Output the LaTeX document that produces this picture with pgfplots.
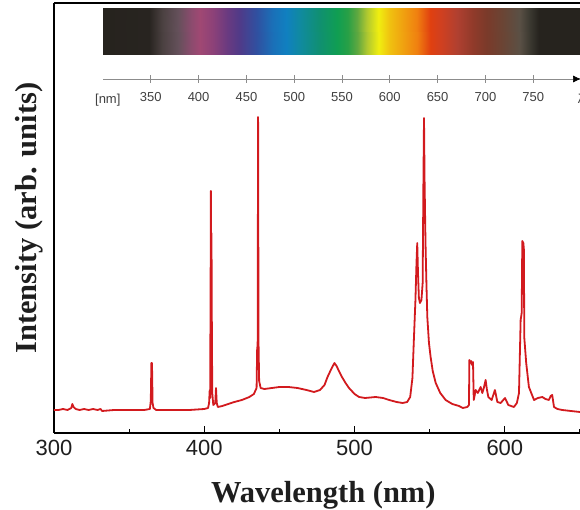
\documentclass[border=0pt]{standalone}
\usepackage{fontspec}
\setmainfont{Liberation Serif}
\setsansfont{Liberation Sans}
\usepackage{pgfplots}
\pgfplotsset{compat=1.18}
\usetikzlibrary{arrows.meta}
\definecolor{specred}{RGB}{210,26,30}
\definecolor{inktext}{RGB}{30,30,30}

\begin{document}
\begin{tikzpicture}[x=1pt,y=1pt]
% ---------------- main spectrum -----------------
\begin{axis}[
  at={(0,0)}, anchor=south west,
  width=526pt, height=430pt, scale only axis,
  xmin=300, xmax=650, ymin=0, ymax=430,
  axis x line*=box, axis y line*=left,
  xtick={300,400,500,600}, minor xtick={350,450,550,650},
  xtick pos=bottom, ytick=\empty,
  tick align=inside,
  major tick length=7pt, minor tick length=3.5pt,
  every tick/.style={black, line width=1.1pt},
  axis line style={line width=1.6pt, black},
  /pgf/number format/assume math mode=true,
  xticklabel style={font=\fontsize{22}{22}\selectfont\sffamily, text=inktext, yshift=-4pt},
  xlabel={Wavelength (nm)}, ylabel={Intensity (arb. units)},
  every axis x label/.style={at={(axis description cs:0.512,-0.1605)}, anchor=base,
     font=\fontsize{30.5}{30.5}\selectfont\bfseries, text=inktext},
  every axis y label/.style={at={(axis description cs:-0.0342,0.5)}, anchor=base, rotate=90,
     font=\fontsize{30.5}{30.5}\selectfont\bfseries, text=inktext},
  clip=false,
]
\addplot[color=specred, line width=1.8pt, line join=round] table {
300 23
303 23
306 24
309 23
311.5 25
312.2 29
313 26
314.5 24
317 23
320 24
323 23
326 24
329 23
331 24
332 22
340 23
350 23
360 23
363.8 24
364.4 32
364.8 70
365.2 70
365.6 30
366.2 25
368 23
380 23
390 23
400 24
402.5 25
403.2 30
403.6 43
403.9 35
404.2 150
404.4 242
404.6 150
404.8 200
405.0 120
405.3 40
406 28
407.3 30
407.8 45
408.3 30
409 26
412 27
416 29
420 31
425 33
430 36
433 39
434.8 45
435.2 86
435.5 86
435.8 316
436.1 90
436.5 52
437.5 45
440 44
445 45
450 46
456 46
462 45
468 43
473 41
477 43
480 48
482 56
484.5 64
486.6 70
488 67
489.6 62
491.6 56
494 50
496.3 45
500 39
503 36
507 35
514 36
519 35
523 33
528 31
532 30
535 31
537 36
538.5 55
539.5 95
540.5 133
541.2 170
541.7 190
542.2 160
542.8 135
543.5 130
544.5 133
545.3 150
545.8 250
546.2 315
546.6 250
547.2 190
547.8 150
548.4 116
549.5 90
550.6 76
552 62
554 50
557 40
560.6 33
565 29
569.5 27
572 25
575 26
576.1 28
576.4 73
577 70
577.6 72
578.2 68
578.8 71
579.3 33
580.6 43
582 40
583.9 46
585 40
586 45
587.2 53
588 44
589 36
591.2 33
593.4 43
595 31
597.2 30
600.1 35
602.3 28
606 26
608 30
609.4 40
610.5 113
611.2 120
611.6 192
612.3 190
612.7 183
612.9 96
614.2 70
616 46
619.4 33
622 35
624.9 36
627 34
629.3 33
630.5 37
631.5 38
632.7 26
635 24
638.2 23
644 22
650 21
};
\end{axis}

% ---------------- spectrum colour bar -----------------
\begin{axis}[
  at={(49pt,378pt)}, anchor=south west,
  width=478pt, height=47pt, scale only axis,
  xmin=300, xmax=800, ymin=0, ymax=1,
  hide axis,
  colormap={spectrum}{
    rgb255(300pt)=(38,35,30);
    rgb255(348pt)=(40,36,32);
    rgb255(362pt)=(75,65,65);
    rgb255(378pt)=(100,80,90);
    rgb255(392pt)=(140,75,110);
    rgb255(401pt)=(160,72,115);
    rgb255(415pt)=(140,65,120);
    rgb255(430pt)=(106,58,128);
    rgb255(443pt)=(80,58,136);
    rgb255(461pt)=(48,80,160);
    rgb255(478pt)=(26,112,184);
    rgb255(492pt)=(16,128,192);
    rgb255(506pt)=(16,138,160);
    rgb255(527pt)=(16,144,112);
    rgb255(545pt)=(16,158,82);
    rgb255(556pt)=(40,160,70);
    rgb255(566pt)=(96,168,64);
    rgb255(576pt)=(176,200,48);
    rgb255(588pt)=(240,238,16);
    rgb255(600pt)=(240,192,16);
    rgb255(614pt)=(240,160,16);
    rgb255(628pt)=(240,128,16);
    rgb255(642pt)=(224,64,16);
    rgb255(653pt)=(208,64,32);
    rgb255(670pt)=(176,64,48);
    rgb255(687pt)=(144,58,42);
    rgb255(702pt)=(122,58,42);
    rgb255(719pt)=(106,69,53);
    rgb255(736pt)=(90,80,69);
    rgb255(747pt)=(58,56,48);
    rgb255(756pt)=(38,35,30);
    rgb255(800pt)=(38,35,30)
  },
  point meta min=300, point meta max=800,
]
\addplot[surf, shader=interp, point meta=x, mesh/rows=2] coordinates {
(300,0) (350,0) (400,0) (450,0) (500,0) (550,0) (600,0) (650,0) (700,0) (750,0) (800,0)
(300,1) (350,1) (400,1) (450,1) (500,1) (550,1) (600,1) (650,1) (700,1) (750,1) (800,1)
};
\end{axis}

% ---------------- wavelength scale arrow -----------------
\begin{axis}[
  at={(49pt,354pt)}, anchor=south west,
  width=478pt, height=1pt, scale only axis,
  xmin=300, xmax=800, ymin=0, ymax=1,
  axis x line=bottom, axis y line=none,
  xtick={350,400,...,750},
  tick align=center, major tick length=8pt,
  every tick/.style={black!45, line width=0.7pt},
  x axis line style={black!45, line width=0.7pt, -{Latex[black,length=8pt,width=7pt]}},
  /pgf/number format/assume math mode=true,
  xticklabel style={font=\fontsize{13}{13}\selectfont\sffamily, text=black!75, yshift=-6pt},
  extra x ticks={305,800},
  extra x tick labels={{[nm]},{λ}},
  extra x tick style={major tick length=0pt, xticklabel style={font=\fontsize{13}{13}\selectfont\sffamily, text=black!75, yshift=-6pt}},
]
\addplot[draw=none] coordinates {(300,0) (800,0)};
\end{axis}

\pgfresetboundingbox
\path[use as bounding box] (-54pt,-77pt) rectangle (526pt,433pt);
\end{tikzpicture}
\end{document}
